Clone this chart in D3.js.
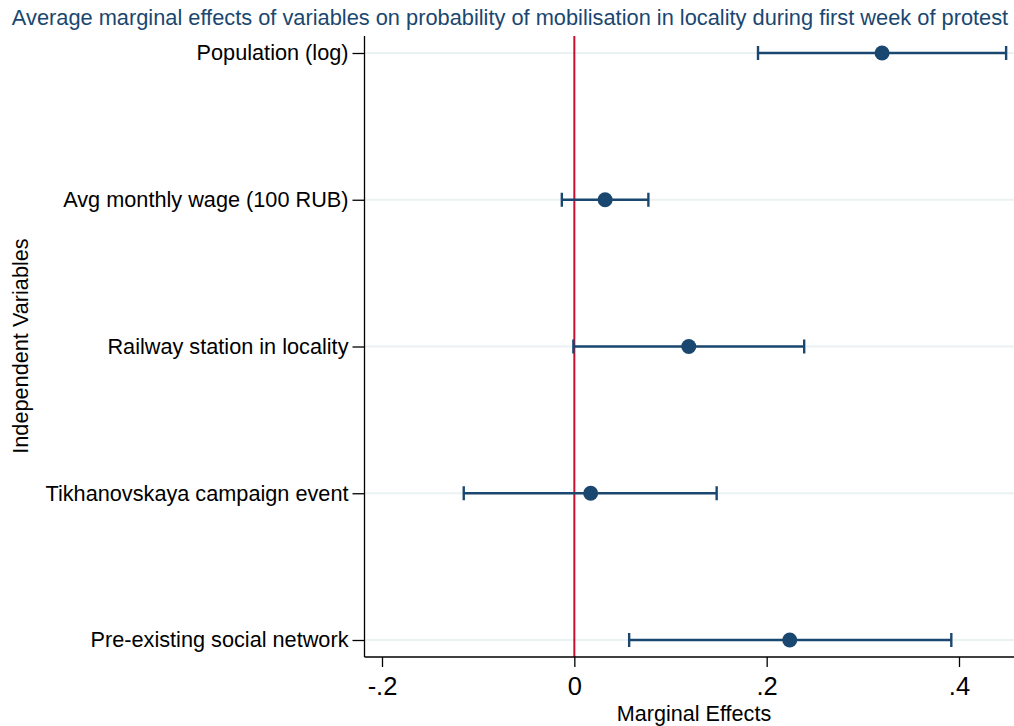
<!DOCTYPE html>
<html><head><meta charset="utf-8">
<script src="https://cdn.jsdelivr.net/npm/d3@7"></script>
<style>body{margin:0;background:#fff}svg{display:block}text{font-family:"Liberation Sans",Arial,Helvetica,sans-serif}</style>
</head><body><svg id="c" width="1014" height="726"></svg>
<script>
const categories = ["Population (log)","Avg monthly wage (100 RUB)","Railway station in locality","Tikhanovskaya campaign event","Pre-existing social network"];
const estimates = [0.320, 0.032, 0.119, 0.017, 0.224];
const ciLow = [0.191, -0.013, -0.001, -0.115, 0.057];
const ciHigh = [0.449, 0.077, 0.239, 0.148, 0.392];
const xTicks = [-0.2, 0, 0.2, 0.4];
const xTickLabels = ["-.2","0",".2",".4"];

(function(){
const svg = d3.select("#c");
const navy = "#1a476f";
const x = d3.scaleLinear().domain([-0.2, 0.4]).range([382, 959]);
const y = d3.scalePoint().domain(categories).range([53, 640]);
const pL = 364.5, pR = 1014, pT = 36, pB = 657;

svg.append("g").selectAll("line").data(categories).join("line")
  .attr("x1", pL).attr("x2", pR).attr("y1", d=>y(d)).attr("y2", d=>y(d))
  .attr("stroke", "#eaf2f3").attr("stroke-width", 2);

svg.append("line").attr("x1", x(0)).attr("x2", x(0)).attr("y1", pT).attr("y2", pB)
  .attr("stroke", "#c8102e").attr("stroke-width", 2);

const ya = svg.append("g").attr("transform", `translate(${pL},0)`)
  .call(d3.axisLeft(y).tickSize(12).tickPadding(4));
ya.select(".domain").remove();
ya.selectAll("line").attr("stroke", "#000").attr("stroke-width", 1.3);
ya.selectAll("text").attr("font-size", 21.7).attr("fill", "#000").attr("font-family", "Liberation Sans, Arial, sans-serif");
svg.append("line").attr("x1", pL).attr("x2", pL).attr("y1", pT).attr("y2", pB).attr("stroke", "#000").attr("stroke-width", 1.3);

const xa = svg.append("g").attr("transform", `translate(0,${pB})`)
  .call(d3.axisBottom(x).tickValues(xTicks).tickFormat((d,i)=>xTickLabels[i]).tickSize(10).tickPadding(10));
xa.select(".domain").remove();
xa.selectAll("line").attr("stroke", "#000").attr("stroke-width", 1.3);
xa.selectAll("text").attr("font-size", 25.5).attr("fill", "#000").attr("font-family", "Liberation Sans, Arial, sans-serif");
svg.append("line").attr("x1", pL).attr("x2", pR).attr("y1", pB).attr("y2", pB).attr("stroke", "#000").attr("stroke-width", 1.3);

const idx = d3.range(categories.length);
svg.append("g").selectAll("line").data(idx).join("line")
  .attr("x1", i=>x(ciLow[i])).attr("x2", i=>x(ciHigh[i])).attr("y1", i=>y(categories[i])).attr("y2", i=>y(categories[i]))
  .attr("stroke", navy).attr("stroke-width", 2.4);
const caps = svg.append("g");
idx.forEach(i => {
  [ciLow[i], ciHigh[i]].forEach(v => {
    caps.append("line").attr("x1", x(v)).attr("x2", x(v)).attr("y1", y(categories[i])-7).attr("y2", y(categories[i])+7)
      .attr("stroke", navy).attr("stroke-width", 2.4);
  });
});
svg.append("g").selectAll("circle").data(idx).join("circle")
  .attr("cx", i=>x(estimates[i])).attr("cy", i=>y(categories[i])).attr("r", 7.5).attr("fill", navy);

svg.append("text").attr("x", 510).attr("y", 25).attr("text-anchor", "middle").attr("font-size", 21.8).attr("fill", navy)
  .text("Average marginal effects of variables on probability of mobilisation in locality during first week of protest");
svg.append("text").attr("x", 694).attr("y", 721).attr("text-anchor", "middle").attr("font-size", 21.6).attr("fill", "#000").text("Marginal Effects");
svg.append("text").attr("transform", "translate(28,346) rotate(-90)").attr("text-anchor", "middle").attr("font-size", 21.7).attr("fill", "#000").text("Independent Variables");
})();
</script></body></html>
